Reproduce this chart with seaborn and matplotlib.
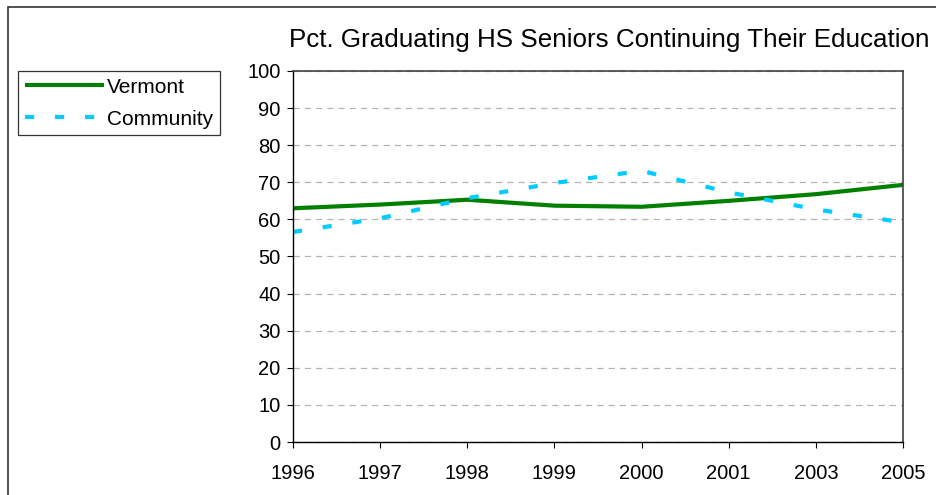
import matplotlib
matplotlib.use("Agg")
import matplotlib.pyplot as plt
import matplotlib.patches as mpatches
import seaborn as sns
import pandas as pd

years = ["1996", "1997", "1998", "1999", "2000", "2001", "2003", "2005"]
vermont = [63.0, 64.0, 65.3, 63.7, 63.4, 65.0, 66.8, 69.3]
community = [56.6, 60.3, 65.7, 69.8, 73.1, 67.3, 62.7, 59.2]
series_names = ["Vermont", "Community"]
title = "Pct. Graduating HS Seniors Continuing Their Education"

sns.set_theme(style="white")
plt.rcParams["font.family"] = ["Liberation Sans", "DejaVu Sans"]
plt.rcParams["text.color"] = "black"

df = pd.DataFrame({"year": years, "Vermont": vermont, "Community": community})

fig = plt.figure(figsize=(9.37, 4.95), dpi=100)
ax = fig.add_axes([293 / 937, 1 - 442 / 495, 610 / 937, 371 / 495])

sns.lineplot(data=df, x="year", y="Vermont", ax=ax, color="#008000", lw=3,
             label=series_names[0], sort=False, solid_capstyle="butt")
sns.lineplot(data=df, x="year", y="Community", ax=ax, color="#00CCFF", lw=3,
             label=series_names[1], sort=False, linestyle=(0, (2.2, 5.0)),
             dash_capstyle="butt")

ax.set_xlim(0, len(years) - 1)
ax.set_ylim(0, 100)
ax.set_yticks(range(0, 101, 10))
ax.set_xlabel("")
ax.set_ylabel("")
ax.grid(axis="y", color="#b4b4b4", linewidth=0.9, linestyle=(0, (5, 4)))
ax.grid(axis="x", visible=False)

for side in ["left", "bottom"]:
    ax.spines[side].set_color("black")
    ax.spines[side].set_linewidth(1.0)
for side in ["top", "right"]:
    ax.spines[side].set_color("#404040")
    ax.spines[side].set_linewidth(1.2)

ax.tick_params(axis="both", direction="out", length=4, width=0.8, color="black",
               labelsize=14.5, labelcolor="black")
ax.tick_params(axis="y", left=True, pad=5)
ax.tick_params(axis="x", bottom=True, pad=12)

ax.get_legend().remove()
handles, labels = ax.get_legend_handles_labels()
leg = fig.legend(handles, labels, loc="upper left",
                 bbox_to_anchor=(18 / 937, 1 - 71 / 495), bbox_transform=fig.transFigure,
                 frameon=True, fancybox=False, fontsize=15, handlelength=3.8,
                 handletextpad=0.15, labelspacing=0.62, borderpad=0.32,
                 borderaxespad=0, edgecolor="black")
leg.get_frame().set_linewidth(0.9)
for t in leg.get_texts():
    t.set_color("black")

fig.text(609 / 937, 1 - 40 / 495, title, ha="center", va="center", fontsize=18.7, color="black")

# outer chart frame
fig.patches.append(mpatches.Rectangle((8.5 / 937, -0.05), 1.1, 1.05 - 7 / 495,
                                      transform=fig.transFigure, fill=False,
                                      edgecolor="#333333", linewidth=1.2))

fig.savefig("out.png", dpi=100)
